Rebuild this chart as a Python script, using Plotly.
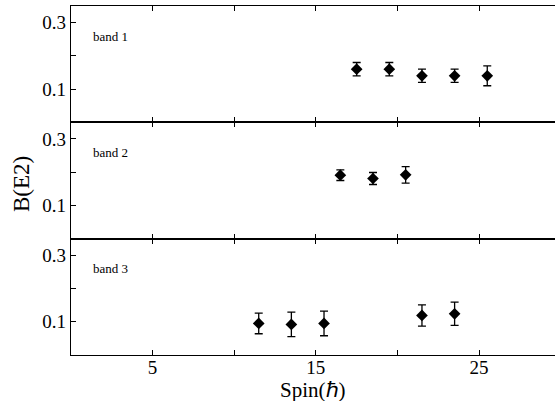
import plotly.graph_objects as go
from plotly.subplots import make_subplots

# Data
band1_spin = [17.5, 19.5, 21.5, 23.5, 25.5]
band1_be2 = [0.160, 0.160, 0.140, 0.140, 0.140]
band1_err = [0.020, 0.020, 0.020, 0.020, 0.030]

band2_spin = [16.5, 18.5, 20.5]
band2_be2 = [0.191, 0.181, 0.192]
band2_err = [0.016, 0.018, 0.025]

band3_spin = [11.5, 13.5, 15.5, 21.5, 23.5]
band3_be2 = [0.095, 0.092, 0.095, 0.119, 0.124]
band3_err = [0.031, 0.037, 0.037, 0.032, 0.035]

band_labels = ["band 1", "band 2", "band 3"]
x_tickvals = [5, 10, 15, 20, 25]
x_ticktext = ["5", "", "15", "", "25"]
y_tickvals = [0.1, 0.2, 0.3]
y_ticktext = ["0.1", "", "0.3"]

FONT = "Liberation Serif, Times New Roman, serif"

fig = make_subplots(rows=3, cols=1, shared_xaxes=True, vertical_spacing=0)

bands = [(band1_spin, band1_be2, band1_err),
         (band2_spin, band2_be2, band2_err),
         (band3_spin, band3_be2, band3_err)]

for i, (xs, ys, es) in enumerate(bands, start=1):
    fig.add_trace(go.Scatter(
        x=xs, y=ys, mode="markers",
        marker=dict(symbol="diamond", size=9, color="black"),
        error_y=dict(type="data", array=es, visible=True, color="black",
                     thickness=1.3, width=4),
        showlegend=False), row=i, col=1)
    fig.update_xaxes(range=[0, 29.65], tickvals=x_tickvals, ticktext=x_ticktext,
                     ticks="inside", ticklen=5, tickwidth=1, tickcolor="black",
                     showline=True, linecolor="black", linewidth=1.2, mirror="ticks",
                     showgrid=False, zeroline=False, automargin=False,
                     showticklabels=(i == 3), ticklabelstandoff=-5,
                     tickfont=dict(family=FONT, size=19, color="black"),
                     row=i, col=1)
    fig.update_yaxes(range=[0, 0.35], tickvals=y_tickvals, ticktext=y_ticktext,
                     ticks="inside", ticklen=5, tickwidth=1, tickcolor="black",
                     showline=True, linecolor="black", linewidth=1.2, mirror=False,
                     showgrid=False, zeroline=False, automargin=False,
                     tickfont=dict(family=FONT, size=19, color="black"),
                     row=i, col=1)
    yref = "y domain" if i == 1 else f"y{i} domain"
    xref = "x domain" if i == 1 else f"x{i} domain"
    fig.add_annotation(text=band_labels[i - 1], xref=xref, yref=yref,
                       x=0.041, y=0.74, xanchor="left", yanchor="middle",
                       showarrow=False,
                       font=dict(family=FONT, size=13, color="black"))

fig.add_annotation(text="Spin(ℏ)", xref="paper", yref="paper", x=0.5, y=-0.1,
                   showarrow=False, xanchor="center", yanchor="middle",
                   font=dict(family=FONT, size=21, color="black"))

fig.add_annotation(text="B(E2)", xref="paper", yref="paper", x=-0.101, y=0.49,
                   textangle=-90, showarrow=False, xanchor="center", yanchor="middle",
                   font=dict(family=FONT, size=23, color="black"))

fig.update_layout(width=555, height=401, margin=dict(l=71, r=0, t=6, b=46),
                  plot_bgcolor="white", paper_bgcolor="white")

fig.write_html("out.html", config={"displayModeBar": False},
               post_script="document.body.style.margin='0';document.body.style.overflow='hidden';")
